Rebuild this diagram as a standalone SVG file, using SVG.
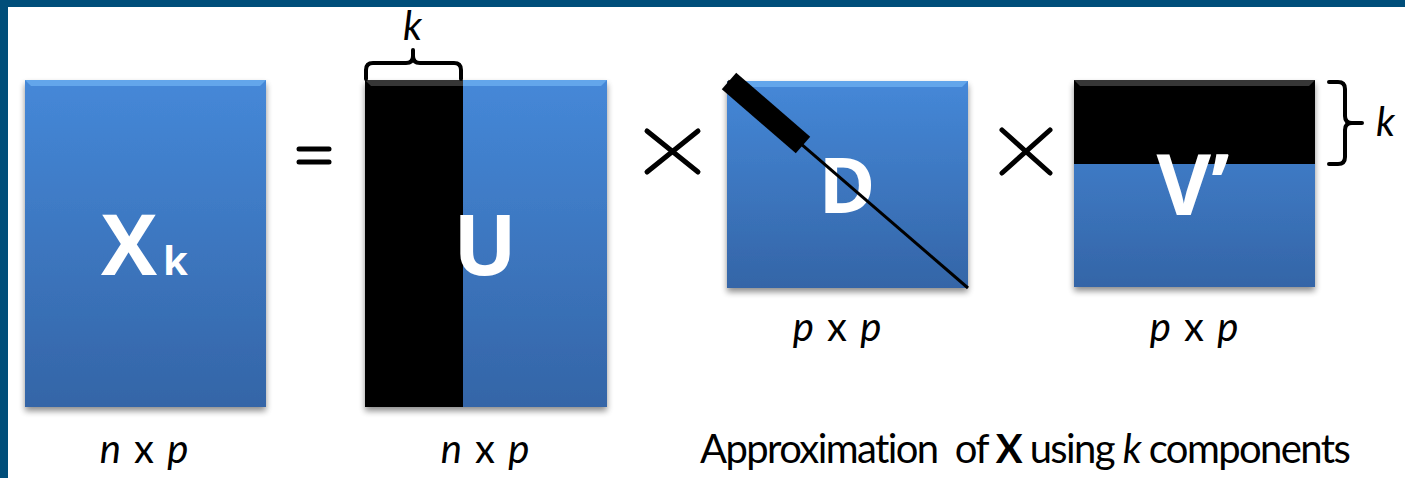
<svg xmlns="http://www.w3.org/2000/svg" width="1405" height="478" viewBox="0 0 1405 478">
<style>
.lbl{font-family:Lato,"Open Sans",sans-serif;font-size:40px;fill:#000;font-variant-ligatures:none}
.big{font-family:"Open Sans",Lato,sans-serif;font-weight:bold;fill:#fff}
.br{fill:none;stroke:#000;stroke-width:4;stroke-linejoin:round;stroke-linecap:round}
.op{stroke:#000;stroke-width:5;stroke-linecap:round}
</style>
<defs>
<linearGradient id="blue" x1="0" y1="0" x2="0" y2="1">
<stop offset="0" stop-color="#4588D8"/>
<stop offset="1" stop-color="#3465A7"/>
</linearGradient>
<filter id="sh" x="-10%" y="-10%" width="120%" height="125%">
<feGaussianBlur in="SourceAlpha" stdDeviation="3"/>
<feOffset dx="0" dy="4"/>
<feComponentTransfer><feFuncA type="linear" slope="0.45"/></feComponentTransfer>
<feMerge><feMergeNode/><feMergeNode in="SourceGraphic"/></feMerge>
</filter>
</defs>
<rect width="1405" height="478" fill="#fff"/>
<rect x="0" y="0" width="1405" height="7" fill="#004E7A"/>
<rect x="0" y="0" width="8" height="478" fill="#004E7A"/>

<g id="Xk">
<rect x="25" y="80" width="241" height="327" fill="url(#blue)" filter="url(#sh)"/>
<polygon points="25,80 266,80 260,86 31,86" fill="#6AAEF0" opacity="0.8"/>
<text x="101" y="275" class="big" font-size="84">X</text>
<text x="163" y="275" class="big" font-size="40">k</text>
</g>

<g id="eq">
<line x1="299" y1="149" x2="329" y2="149" class="op" stroke-width="4.5"/>
<line x1="299" y1="162" x2="329" y2="162" class="op" stroke-width="4.5"/>
</g>

<g id="U">
<g filter="url(#sh)">
<rect x="365" y="80" width="242" height="327" fill="url(#blue)"/>
<rect x="365" y="80" width="98" height="327" fill="#050505"/>
</g>
<polygon points="463,80 607,80 601,86 463,86" fill="#6AAEF0" opacity="0.8"/>
<polygon points="365,80 463,80 463,86 371,86" fill="#444" opacity="0.8"/>
<text x="485" y="275" class="big" font-size="84" text-anchor="middle">U</text>
<path class="br" d="M366,79 L366,70 Q366,63 373,63 L406,63 Q413,63 413,56 L413,50 L413,56 Q413,63 420,63 L454,63 Q461,63 461,70 L461,79"/>
<text x="403" y="40" class="lbl" font-style="italic" font-size="34">k</text>
</g>

<g id="x1">
<line x1="647" y1="131" x2="698" y2="172" class="op"/>
<line x1="698" y1="131" x2="647" y2="172" class="op"/>
</g>

<g id="D">
<rect x="727" y="81" width="241" height="207" fill="url(#blue)" filter="url(#sh)"/>
<polygon points="727,81 968,81 962,87 733,87" fill="#6AAEF0" opacity="0.8"/>
<text x="847" y="213" class="big" font-size="77" text-anchor="middle">D</text>
<line x1="728" y1="81" x2="968" y2="288" stroke="#000" stroke-width="3"/>
<line x1="729" y1="81" x2="803" y2="145" stroke="#000" stroke-width="22"/>
</g>

<g id="x2">
<line x1="1002" y1="130" x2="1050" y2="173" class="op"/>
<line x1="1050" y1="130" x2="1002" y2="173" class="op"/>
</g>

<g id="V">
<g filter="url(#sh)">
<rect x="1074" y="80" width="241" height="207" fill="url(#blue)"/>
<rect x="1074" y="80" width="241" height="84" fill="#050505"/>
</g>
<polygon points="1074,80 1315,80 1309,86 1080,86" fill="#444" opacity="0.8"/>
<text x="1193" y="215" class="big" font-size="84" text-anchor="middle">V’</text>
<path class="br" d="M1329,82 L1338,82 Q1345,82 1345,89 L1345,116 Q1345,123 1352,123 L1362,123 L1352,123 Q1345,123 1345,130 L1345,157 Q1345,164 1338,164 L1329,164"/>
<text x="1376" y="136" class="lbl" font-style="italic" font-size="36">k</text>
</g>

<g id="labels">
<text x="144" y="463" class="lbl" text-anchor="middle" word-spacing="3"><tspan font-style="italic">n</tspan> x <tspan font-style="italic">p</tspan></text>
<text x="485" y="463" class="lbl" text-anchor="middle" word-spacing="3"><tspan font-style="italic">n</tspan> x <tspan font-style="italic">p</tspan></text>
<text x="837" y="341" class="lbl" text-anchor="middle" word-spacing="3"><tspan font-style="italic">p</tspan> x <tspan font-style="italic">p</tspan></text>
<text x="1194" y="341" class="lbl" text-anchor="middle" word-spacing="3"><tspan font-style="italic">p</tspan> x <tspan font-style="italic">p</tspan></text>
<text x="700" y="463" class="lbl" font-size="36" letter-spacing="-1.6">Approximation&#160; of <tspan font-weight="bold">X</tspan> using <tspan font-style="italic">k</tspan> components</text>
</g>
</svg>
